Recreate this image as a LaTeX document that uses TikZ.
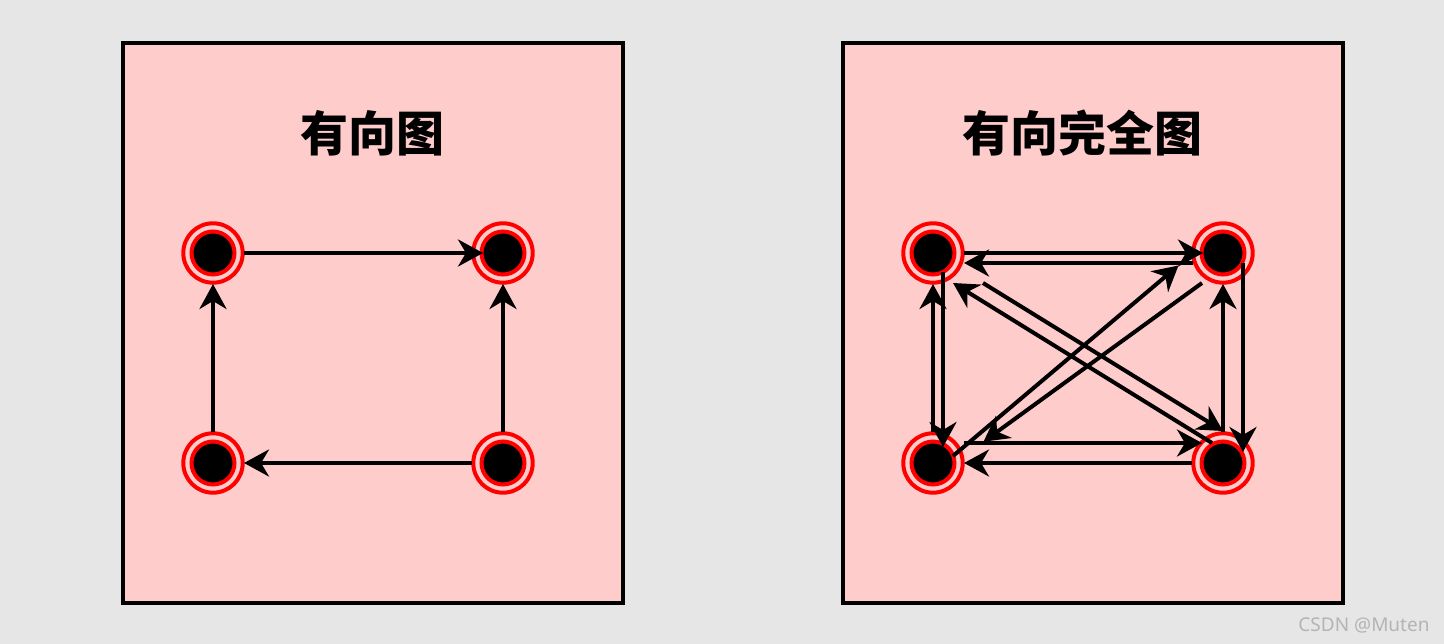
\documentclass[tikz,border=0pt]{standalone}
\usepackage{fontspec}
\newfontfamily\cjk{Noto Sans CJK SC}
\newfontfamily\wmfont{Noto Sans}
\usetikzlibrary{arrows.meta,calc}
\definecolor{bggray}{HTML}{E6E6E6}
\definecolor{boxpink}{HTML}{FFCCCC}
\definecolor{ringred}{HTML}{FF0000}
\definecolor{wmgray}{HTML}{B4B4B4}
\tikzset{
  panel/.style={draw=black, line width=3.2pt, fill=boxpink, minimum width=500pt, minimum height=560pt, inner sep=0pt},
  vert/.style={circle, draw=ringred, line width=4pt, fill=black, minimum size=43pt, inner sep=0pt},
  ring/.style={draw=ringred, line width=4pt},
  title/.style={font=\cjk\bfseries\fontsize{48pt}{50pt}\selectfont, inner sep=0pt},
  edge/.style={line width=4pt, -{Stealth[length=25pt, width=27pt, inset=8pt]}},
}
\begin{document}
\begin{tikzpicture}[x=1pt, y=-1pt]
\fill[bggray] (0,0) rectangle (1444,644);
\useasboundingbox (0,0) rectangle (1444,644);
% panels
\node[panel] (p1) at (373,323) {};
\node[panel] (p2) at (1093,323) {};
\node[title] (t1) at (372.5,133) {有向图};
\node[title] (t2) at (1082,133) {有向完全图};
% vertices
\foreach \n/\x/\y in {A/213/253, B/503/253, C/213/463, D/503/463, E/933/253, F/1223/253, G/933/463, H/1223/463}{
  \node[vert] (\n) at (\x,\y) {};
  \draw[ring] (\n) circle[radius=29.7pt];
}
% left edges
\draw[edge] ($(A)+(31,0)$) -- ($(B)+(-20,0)$);
\draw[edge] ($(C)+(0,-31)$) -- ($(A)+(0,31)$);
\draw[edge] ($(D)+(0,-31)$) -- ($(B)+(0,31)$);
\draw[edge] ($(D)+(-31,0)$) -- ($(C)+(31,0)$);
% right edges
\draw[edge] ($(E)+(31,0)$) -- ($(F)+(-20,0)$);
\draw[edge] ($(F)+(-30,10)$) -- ($(E)+(31,10)$);
\draw[edge] ($(E)+(10,19)$) -- ($(G)+(10,-16)$);
\draw[edge] ($(G)+(0,-31)$) -- ($(E)+(0,31)$);
\draw[edge] ($(F)+(20,10)$) -- ($(H)+(20,-11)$);
\draw[edge] ($(H)+(0,-31)$) -- ($(F)+(0,31)$);
\draw[edge] ($(G)+(31,-20)$) -- ($(H)+(-21,-20)$);
\draw[edge] ($(H)+(-31,0)$) -- ($(G)+(31,0)$);
\draw[edge] ($(E)+(50,30)$) -- ($(H)+(0,-32)$);
\draw[edge] ($(H)+(-11,-20)$) -- ($(E)+(20,30)$);
\draw[edge] ($(G)+(20,-7)$) -- ($(F)+(-44.5,12.5)$);
\draw[edge] ($(F)+(-21,30)$) -- ($(G)+(50.5,-21.3)$);
% watermark
\node[font=\wmfont\fontsize{19pt}{21pt}\selectfont, text=wmgray, inner sep=0pt] (wm) at (1364,625) {CSDN @Muten};
\end{tikzpicture}
\end{document}
